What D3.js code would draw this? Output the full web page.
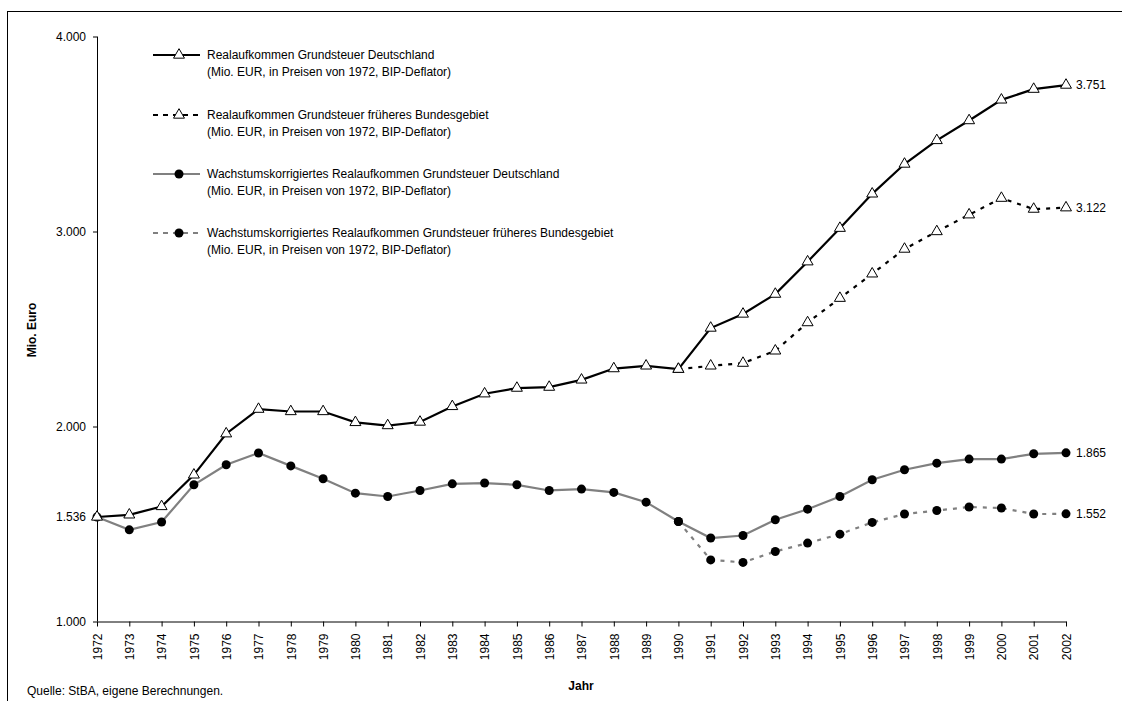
<!DOCTYPE html>
<html>
<head>
<meta charset="utf-8">
<script src="https://cdn.jsdelivr.net/npm/d3@7"></script>
<style>
  html, body { margin: 0; padding: 0; background: #fff; }
  svg { display: block; font-family: "Liberation Sans", Arial, sans-serif; }
</style>
</head>
<body>
<svg id="chart" width="1122" height="701"></svg>
<script>
// ---- Data ----
const years = d3.range(1972, 2003);
const realDE = [1536, 1547, 1590, 1752, 1963, 2089, 2077, 2077, 2021, 2005, 2023, 2103, 2168, 2197, 2202, 2239, 2297, 2311, 2294, 2505, 2577, 2679, 2845, 3017, 3193, 3346, 3467, 3569, 3675, 3730, 3751];
const realWest = [null, null, null, null, null, null, null, null, null, null, null, null, null, null, null, null, null, null, 2294, 2311, 2325, 2388, 2533, 2658, 2783, 2910, 3000, 3086, 3171, 3115, 3122];
const growthDE = [1536, 1470, 1510, 1701, 1804, 1864, 1798, 1732, 1658, 1641, 1672, 1706, 1710, 1701, 1672, 1679, 1662, 1612, 1513, 1428, 1441, 1522, 1576, 1641, 1727, 1778, 1812, 1833, 1833, 1860, 1865];
const growthWest = [null, null, null, null, null, null, null, null, null, null, null, null, null, null, null, null, null, null, 1513, 1316, 1303, 1359, 1402, 1448, 1508, 1551, 1569, 1587, 1582, 1551, 1552];
const yTicks = [1000, 1536, 2000, 3000, 4000];
const endLabels = ["3.751", "3.122", "1.865", "1.552"];
const legendLines = [
  ["Realaufkommen Grundsteuer Deutschland", "(Mio. EUR, in Preisen von 1972, BIP-Deflator)"],
  ["Realaufkommen Grundsteuer früheres Bundesgebiet", "(Mio. EUR, in Preisen von 1972, BIP-Deflator)"],
  ["Wachstumskorrigiertes Realaufkommen Grundsteuer Deutschland", "(Mio. EUR, in Preisen von 1972, BIP-Deflator)"],
  ["Wachstumskorrigiertes Realaufkommen Grundsteuer früheres Bundesgebiet", "(Mio. EUR, in Preisen von 1972, BIP-Deflator)"]
];
const yTitle = "Mio. Euro";
const xTitle = "Jahr";
const source = "Quelle: StBA, eigene Berechnungen.";

// ---- Setup ----
const svg = d3.select("#chart");
const de = d3.formatLocale({decimal: ",", thousands: ".", grouping: [3], currency: ["", " €"]});
const fmt = de.format(",d");

const x = d3.scaleLinear().domain([1972, 2002]).range([97, 1066]);
const y = d3.scaleLinear().domain([1000, 4000]).range([621.5, 36.5]);

// frame
svg.append("rect").attr("x", 7.5).attr("y", 11.5).attr("width", 1130).attr("height", 700)
  .attr("fill", "none").attr("stroke", "#000").attr("stroke-width", 1);

// axes
const yAxis = svg.append("g").attr("transform", "translate(97,0)")
  .call(d3.axisLeft(y).tickValues(yTicks).tickFormat(fmt).tickSize(4).tickPadding(7));
const xAxis = svg.append("g").attr("transform", "translate(0,621.5)")
  .call(d3.axisBottom(x).tickValues(years).tickFormat(d => String(d)).tickSize(5).tickSizeOuter(0));
[yAxis, xAxis].forEach(g => {
  g.select(".domain").attr("stroke", "#000");
  g.selectAll(".tick line").attr("stroke", "#000");
  g.selectAll("text").attr("font-size", 12).attr("fill", "#000").attr("font-family", "Liberation Sans, Arial, sans-serif");
});
yAxis.select(".domain").attr("d", "M0.5," + y(4000) + "V" + y(1000));
xAxis.selectAll(".tick text")
  .attr("transform", "rotate(-90)")
  .attr("text-anchor", "end")
  .attr("x", -12).attr("y", 0).attr("dy", "0.35em");

// axis titles
svg.append("text").attr("transform", "translate(36,330) rotate(-90)")
  .attr("text-anchor", "middle").attr("font-size", 12).attr("font-weight", "bold").text(yTitle);
svg.append("text").attr("x", 581).attr("y", 690)
  .attr("text-anchor", "middle").attr("font-size", 12).attr("font-weight", "bold").text(xTitle);
svg.append("text").attr("x", 27).attr("y", 695).attr("font-size", 12).text(source);

// series
const series = [
  {vals: realDE, color: "#000", dash: null, marker: "tri"},
  {vals: realWest, color: "#000", dash: "4,6", marker: "tri"},
  {vals: growthDE, color: "#808080", dash: null, marker: "dot"},
  {vals: growthWest, color: "#808080", dash: "4,6", marker: "dot"}
];
const line = d3.line().defined(d => d.v != null).x(d => x(d.yr)).y(d => y(d.v));
const tri = d3.symbol().type(d3.symbolTriangle).size(52);

// draw order: dashed series under solid
[3, 1, 2, 0].forEach(i => {
  const s = series[i];
  const pts = years.map((yr, k) => ({yr, v: s.vals[k]}));
  svg.append("path").datum(pts).attr("d", line).attr("fill", "none")
    .attr("stroke", s.color).attr("stroke-width", 2.2)
    .attr("stroke-dasharray", s.dash);
});
[3, 1, 2, 0].forEach(i => {
  const s = series[i];
  const pts = years.map((yr, k) => ({yr, v: s.vals[k]})).filter(d => d.v != null);
  if (s.marker === "tri") {
    svg.append("g").selectAll("path").data(pts).join("path")
      .attr("d", tri).attr("transform", d => `translate(${x(d.yr)},${y(d.v)})`)
      .attr("fill", "#fff").attr("stroke", "#000").attr("stroke-width", 1);
  } else {
    svg.append("g").selectAll("circle").data(pts).join("circle")
      .attr("cx", d => x(d.yr)).attr("cy", d => y(d.v)).attr("r", 4.5).attr("fill", "#000");
  }
});

// end labels
series.forEach((s, i) => {
  const last = s.vals[s.vals.length - 1];
  svg.append("text").attr("x", x(2002) + 10).attr("y", y(last)).attr("dy", "0.35em")
    .attr("font-size", 12).attr("fill", "#000").text(endLabels[i]);
});

// legend
const legY = [55, 115, 174, 233];
series.forEach((s, i) => {
  const g = svg.append("g").attr("transform", `translate(0,${legY[i]})`);
  g.append("line").attr("x1", 153).attr("x2", 200).attr("y1", 0).attr("y2", 0)
    .attr("stroke", s.color).attr("stroke-width", 2.2).attr("stroke-dasharray", s.dash ? "5,5" : null);
  if (s.marker === "tri") {
    g.append("path").attr("d", tri).attr("transform", "translate(179,0)")
      .attr("fill", "#fff").attr("stroke", "#000");
  } else {
    g.append("circle").attr("cx", 179).attr("cy", 0).attr("r", 4.5).attr("fill", "#000");
  }
  g.append("text").attr("x", 207).attr("y", 0).attr("dy", "0.35em").attr("font-size", 12).text(legendLines[i][0]);
  g.append("text").attr("x", 207).attr("y", 17).attr("dy", "0.35em").attr("font-size", 12).text(legendLines[i][1]);
});
</script>
</body>
</html>
